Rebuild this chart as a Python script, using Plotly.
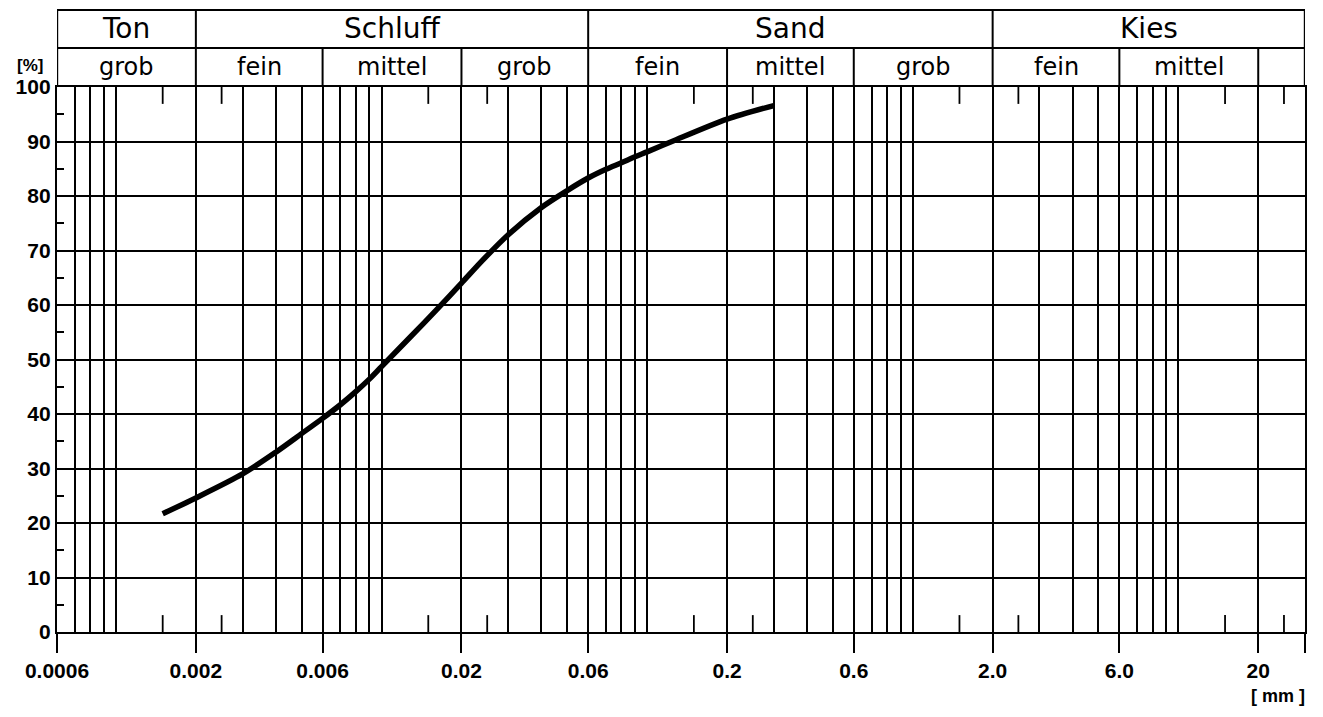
import math
import plotly.graph_objects as go

# ---- data ----
grain_mm = [0.0015, 0.002, 0.003, 0.004, 0.005, 0.006, 0.007, 0.008, 0.009, 0.01,
            0.013, 0.0161, 0.02, 0.0238, 0.03, 0.04, 0.05, 0.06, 0.07, 0.08, 0.09, 0.1,
            0.124, 0.2, 0.3]
passing_pct = [21.7, 24.6, 29.0, 33.0, 36.4, 39.2, 41.7, 44.1, 46.4, 48.7,
               54.4, 59.1, 64.0, 68.0, 72.9, 77.9, 81.0, 83.3, 84.9, 86.1, 87.2, 88.1,
               90.0, 94.1, 96.6]

x_tickvals = [0.0006, 0.002, 0.006, 0.02, 0.06, 0.2, 0.6, 2.0, 6.0, 20, 30]
x_ticktext = ["0.0006", "0.002", "0.006", "0.02", "0.06", "0.2", "0.6", "2.0", "6.0", "20", ""]
x_grid_lines = [0.0007, 0.0008, 0.0009, 0.001,
                0.003, 0.004, 0.005, 0.007, 0.008, 0.009, 0.01,
                0.03, 0.04, 0.05, 0.07, 0.08, 0.09, 0.1,
                0.3, 0.4, 0.5, 0.7, 0.8, 0.9, 1.0,
                3, 4, 5, 7, 8, 9, 10]
x_short_ticks = [0.0015, 0.0025, 0.015, 0.025, 0.15, 0.25, 1.5, 2.5, 15, 25]
y_tickvals = [0, 10, 20, 30, 40, 50, 60, 70, 80, 90, 100]
y_minor = [5, 15, 25, 35, 45, 55, 65, 75, 85, 95]

main_groups = ["Ton", "Schluff", "Sand", "Kies"]
main_bounds = [0.0006, 0.002, 0.06, 2.0, 30]
sub_groups = ["grob", "fein", "mittel", "grob", "fein", "mittel", "grob", "fein", "mittel", ""]
sub_bounds = [0.0006, 0.002, 0.006, 0.02, 0.06, 0.2, 0.6, 2.0, 6.0, 20, 30]

X_MIN, X_MAX = 0.0006, 30

fig = go.Figure()

# short tick marks (bottom and top)
sx, sy = [], []
for v in x_short_ticks:
    sx += [v, v, None, v, v, None]
    sy += [0, 3.1, None, 100, 96.9, None]
fig.add_trace(go.Scatter(x=sx, y=sy, mode="lines", line=dict(color="black", width=1.8),
                         hoverinfo="skip", showlegend=False))

# grading curve
fig.add_trace(go.Scatter(x=grain_mm, y=passing_pct, mode="lines",
                         line=dict(color="black", width=5.5, shape="spline", smoothing=0.8),
                         showlegend=False))

LINE = "black"
fig.update_xaxes(type="log", range=[math.log10(X_MIN), math.log10(X_MAX)],
                 tickmode="array", tickvals=x_tickvals, ticktext=x_ticktext,
                 ticks="outside", ticklen=19, tickwidth=2.2, tickcolor=LINE,
                 showgrid=True, gridcolor=LINE, gridwidth=1.8,
                 showline=True, linecolor=LINE, linewidth=2.4, mirror=True,
                 zeroline=False, automargin=False,
                 tickfont=dict(family="Liberation Sans", size=21, color="black", weight="bold"),
                 minor=dict(tickmode="array", tickvals=x_grid_lines, showgrid=True,
                            gridcolor=LINE, gridwidth=1.6, ticks=""))
fig.update_yaxes(range=[0, 100], tickmode="array", tickvals=y_tickvals,
                 ticks="", showgrid=True, gridcolor=LINE, gridwidth=1.8,
                 showline=True, linecolor=LINE, linewidth=2.4, mirror=True,
                 zeroline=False, automargin=False,
                 tickfont=dict(family="Liberation Sans", size=21, color="black", weight="bold"),
                 minor=dict(tickmode="array", tickvals=y_minor, ticks="inside",
                            ticklen=7, tickwidth=1.8, tickcolor=LINE, showgrid=False))

# header table
Y_TOP, Y_MID, Y_BOT = 1.1413, 1.0716, 1.0
lg = math.log10
shapes = []
def seg(x0, x1, y0, y1, w=2.0):
    shapes.append(dict(type="line", xref="x", yref="paper", x0=x0, x1=x1,
                       y0=y0, y1=y1, line=dict(color=LINE, width=w)))
seg(X_MIN, X_MAX, Y_TOP, Y_TOP, 2.2)
seg(X_MIN, X_MAX, Y_MID, Y_MID, 2.0)
seg(X_MIN, X_MIN, Y_BOT, Y_TOP, 2.4)
seg(X_MAX, X_MAX, Y_BOT, Y_TOP, 2.4)
for b in main_bounds[1:-1]:
    seg(b, b, Y_MID, Y_TOP, 2.0)
for b in sub_bounds[1:-1]:
    seg(b, b, Y_BOT, Y_MID, 2.0)

annotations = []
for i, name in enumerate(main_groups):
    c = (lg(main_bounds[i]) + lg(main_bounds[i + 1])) / 2
    annotations.append(dict(x=c, y=(Y_MID + Y_TOP) / 2, xref="x", yref="paper",
                            text=name, showarrow=False, yanchor="middle",
                            font=dict(family="DejaVu Sans", size=28, color="black")))
for i, name in enumerate(sub_groups):
    if not name:
        continue
    c = (lg(sub_bounds[i]) + lg(sub_bounds[i + 1])) / 2
    annotations.append(dict(x=c, y=(Y_BOT + Y_MID) / 2, xref="x", yref="paper",
                            text=name, showarrow=False, yanchor="middle",
                            font=dict(family="DejaVu Sans", size=24, color="black")))
annotations.append(dict(x=-0.022, y=1.04, xref="paper", yref="paper", text="[%]",
                        showarrow=False, xanchor="center", yanchor="middle",
                        font=dict(family="Liberation Sans", size=17, color="black", weight="bold")))
annotations.append(dict(x=0.978, y=-0.118, xref="paper", yref="paper", text="[ mm ]",
                        showarrow=False, xanchor="center", yanchor="middle",
                        font=dict(family="Liberation Sans", size=18, color="black", weight="bold")))

# the page body has an 8 px margin, so the figure is sized/margined to place the
# plot area at the same pixels as the reference
fig.update_layout(width=1315, height=709, margin=dict(l=49, r=18, t=79, b=85),
                  paper_bgcolor="white", plot_bgcolor="white",
                  shapes=shapes, annotations=annotations, showlegend=False)

fig.write_html("out.html")
